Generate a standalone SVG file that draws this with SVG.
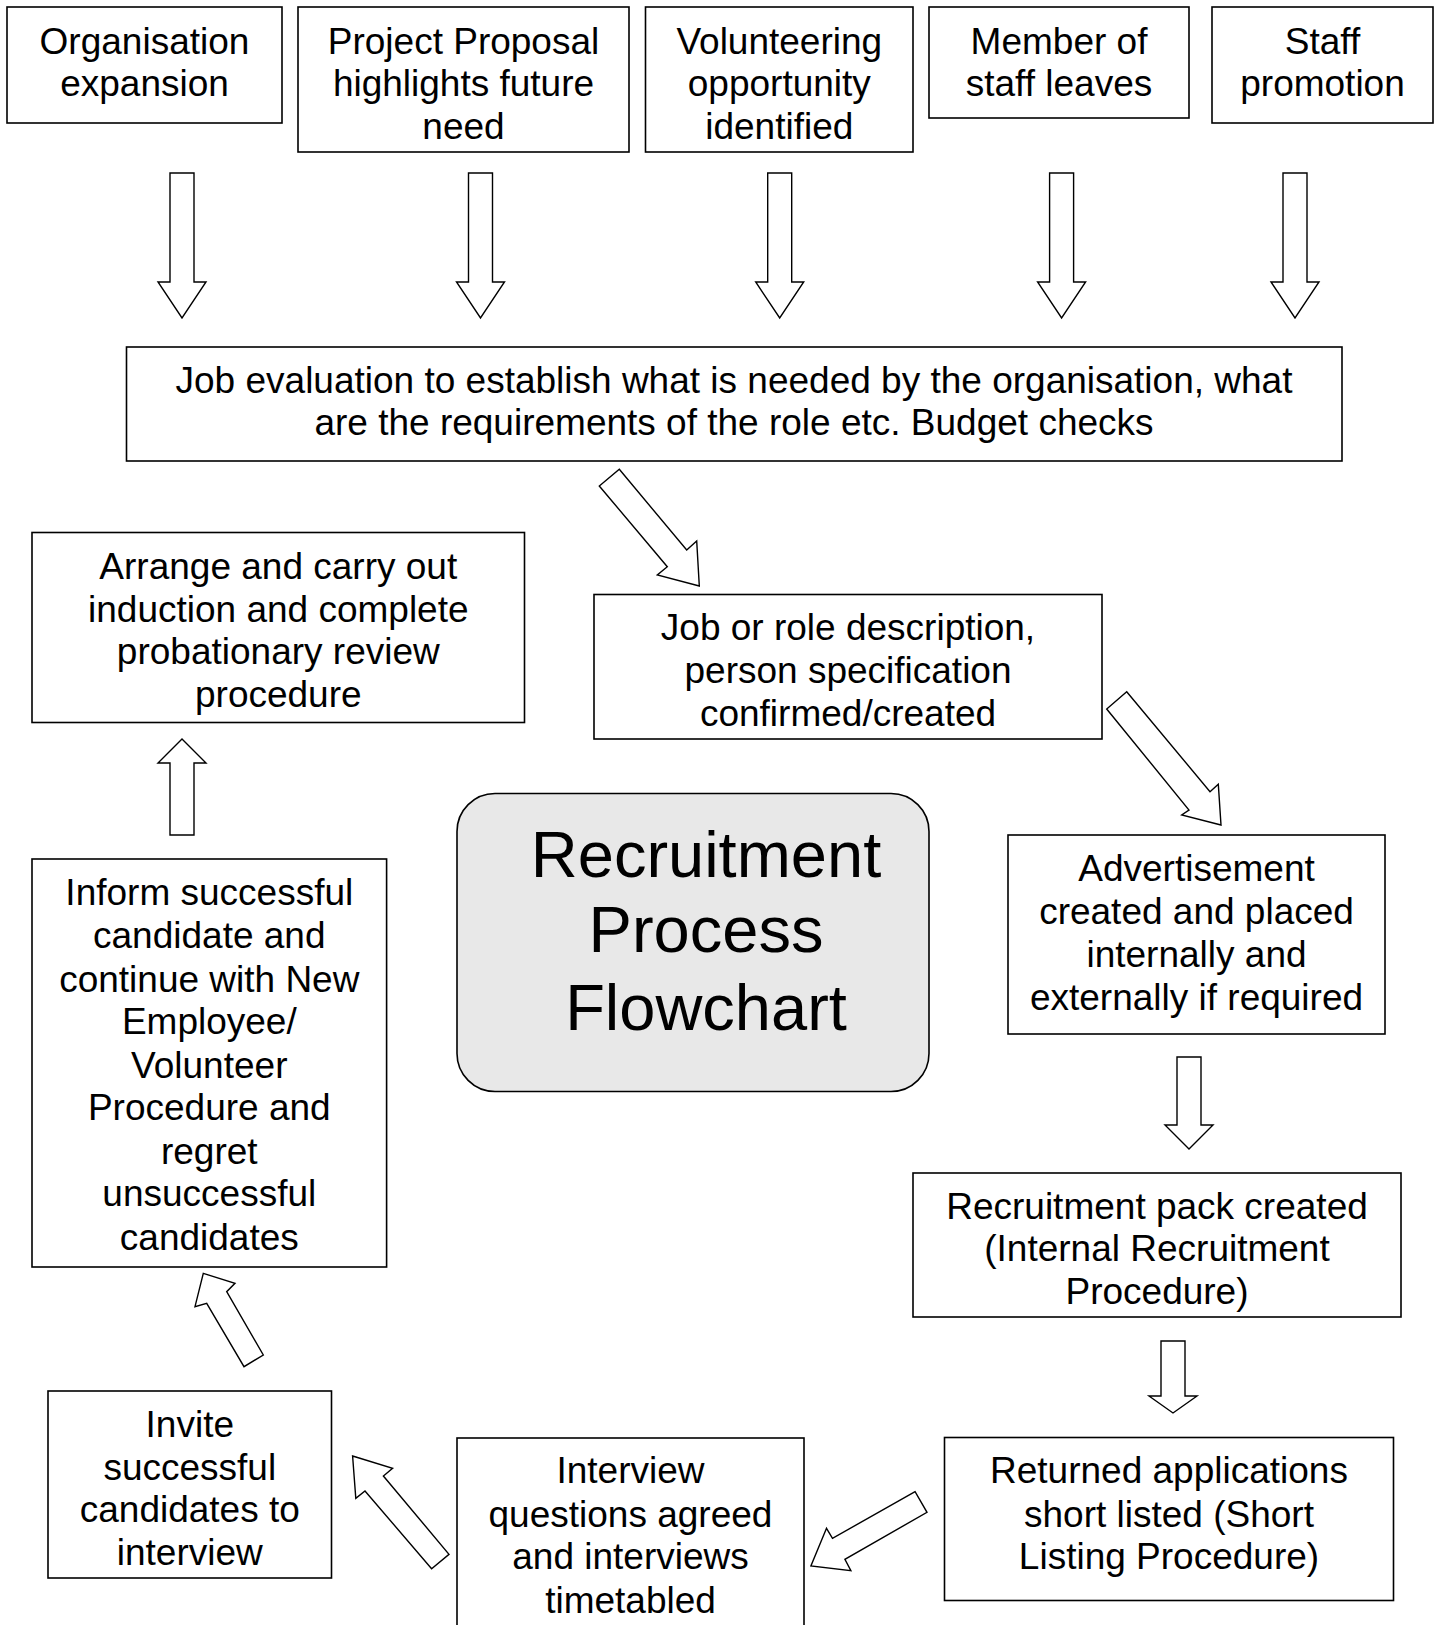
<svg xmlns="http://www.w3.org/2000/svg" width="1440" height="1625" viewBox="0 0 1440 1625">
<style>
.box{fill:#fff;stroke:#000;stroke-width:1.6}
.title{fill:#e8e8e8;stroke:#000;stroke-width:1.6}
.t{font-family:"Liberation Sans",Arial,sans-serif;font-size:37px;fill:#000;text-anchor:middle}
.tt{font-family:"Liberation Sans",Arial,sans-serif;font-size:65px;fill:#000;text-anchor:middle}
.arr{fill:#fff;stroke:#000;stroke-width:1.4;stroke-linejoin:miter}
</style>
<rect width="1440" height="1625" fill="#fff"/>
<g id="connectors">
<polygon class="arr" points="170,173 194,173 194,282 206,282 182,318 158,282 170,282"/>
<polygon class="arr" points="468.5,173 492.5,173 492.5,282 504.5,282 480.5,318 456.5,282 468.5,282"/>
<polygon class="arr" points="767.7,173 791.7,173 791.7,282 803.7,282 779.7,318 755.7,282 767.7,282"/>
<polygon class="arr" points="1049.6,173 1073.6,173 1073.6,282 1085.6,282 1061.6,318 1037.6,282 1049.6,282"/>
<polygon class="arr" points="1283,173 1307,173 1307,282 1319,282 1295,318 1271,282 1283,282"/>
<polygon class="arr" points="619.3,469.3 686.7,550 696.7,541 699.3,586 657.3,575 667.3,566.7 599.3,486"/>
<polygon class="arr" points="1126.7,691.7 1210,791.7 1218.3,784.3 1221,825 1181.7,815 1189,810 1106.7,709"/>
<polygon class="arr" points="1177,1057 1201,1057 1201,1125 1213,1125 1189,1149 1165,1125 1177,1125"/>
<polygon class="arr" points="1161,1341 1185,1341 1185,1396 1197,1396 1173,1413 1149,1396 1161,1396"/>
<polygon class="arr" points="915.1,1491.7 832.5,1538.3 826.5,1528.3 810.9,1566 850.9,1570.7 844.9,1559.3 927,1512.3"/>
<polygon class="arr" points="352.6,1456 392.6,1468.3 383.4,1476 449,1554.3 431.6,1568.7 365,1491 355.8,1498.3"/>
<polygon class="arr" points="203.3,1273.3 235,1283.3 226.7,1291.7 263.3,1355 244,1366.7 206.7,1303.3 195,1306.7"/>
<polygon class="arr" points="170,835 194,835 194,763 206,763 182,739 158,763 170,763"/>
</g>
<g id="organisation-expansion">
<rect class="box" x="7" y="7" width="275" height="116"/>
<text class="t" x="144.5" y="54">Organisation</text>
<text class="t" x="144.5" y="96">expansion</text>
</g>
<g id="project-proposal">
<rect class="box" x="298" y="7" width="331" height="145"/>
<text class="t" x="463.5" y="54">Project Proposal</text>
<text class="t" x="463.5" y="96">highlights future</text>
<text class="t" x="463.5" y="138.5">need</text>
</g>
<g id="volunteering">
<rect class="box" x="645.5" y="7" width="267.5" height="145"/>
<text class="t" x="779.3" y="54">Volunteering</text>
<text class="t" x="779.3" y="96">opportunity</text>
<text class="t" x="779.3" y="138.5">identified</text>
</g>
<g id="member-leaves">
<rect class="box" x="929" y="7" width="260" height="111"/>
<text class="t" x="1059" y="54">Member of</text>
<text class="t" x="1059" y="96">staff leaves</text>
</g>
<g id="staff-promotion">
<rect class="box" x="1212" y="7" width="221" height="116"/>
<text class="t" x="1322.5" y="54">Staff</text>
<text class="t" x="1322.5" y="96">promotion</text>
</g>
<g id="job-evaluation">
<rect class="box" x="126.5" y="347" width="1215.5" height="114"/>
<text class="t" x="734" y="392.5">Job evaluation to establish what is needed by the organisation, what</text>
<text class="t" x="734" y="435">are the requirements of the role etc. Budget checks</text>
</g>
<g id="arrange-induction">
<rect class="box" x="32" y="532.5" width="492.5" height="190"/>
<text class="t" x="278.3" y="579">Arrange and carry out</text>
<text class="t" x="278.3" y="621.5">induction and complete</text>
<text class="t" x="278.3" y="664">probationary review</text>
<text class="t" x="278.3" y="706.5">procedure</text>
</g>
<g id="job-description">
<rect class="box" x="594" y="594.5" width="508" height="144.5"/>
<text class="t" x="848" y="640">Job or role description,</text>
<text class="t" x="848" y="683">person specification</text>
<text class="t" x="848" y="726">confirmed/created</text>
</g>
<g id="title">
<rect class="title" x="457" y="793.5" width="472" height="298" rx="38" ry="38"/>
<text class="tt" x="706" y="877">Recruitment</text>
<text class="tt" x="706" y="952">Process</text>
<text class="tt" x="706" y="1029.5">Flowchart</text>
</g>
<g id="inform-successful">
<rect class="box" x="32" y="859" width="354.6" height="408"/>
<text class="t" x="209.3" y="904.6">Inform successful</text>
<text class="t" x="209.3" y="948">candidate and</text>
<text class="t" x="209.3" y="991.5">continue with New</text>
<text class="t" x="209.3" y="1034">Employee/</text>
<text class="t" x="209.3" y="1077.5">Volunteer</text>
<text class="t" x="209.3" y="1120.2">Procedure and</text>
<text class="t" x="209.3" y="1163.5">regret</text>
<text class="t" x="209.3" y="1206.2">unsuccessful</text>
<text class="t" x="209.3" y="1249.5">candidates</text>
</g>
<g id="advertisement">
<rect class="box" x="1008" y="835" width="377" height="199"/>
<text class="t" x="1196.5" y="880.7">Advertisement</text>
<text class="t" x="1196.5" y="924">created and placed</text>
<text class="t" x="1196.5" y="966.8">internally and</text>
<text class="t" x="1196.5" y="1010">externally if required</text>
</g>
<g id="recruitment-pack">
<rect class="box" x="913" y="1173" width="488" height="144"/>
<text class="t" x="1157" y="1218.7">Recruitment pack created</text>
<text class="t" x="1157" y="1261">(Internal Recruitment</text>
<text class="t" x="1157" y="1303.7">Procedure)</text>
</g>
<g id="returned-applications">
<rect class="box" x="944.5" y="1437.5" width="449" height="163"/>
<text class="t" x="1169" y="1483">Returned applications</text>
<text class="t" x="1169" y="1526.6">short listed (Short</text>
<text class="t" x="1169" y="1569">Listing Procedure)</text>
</g>
<g id="interview-questions">
<rect class="box" x="457" y="1438" width="347" height="200"/>
<text class="t" x="630.5" y="1483">Interview</text>
<text class="t" x="630.5" y="1526.6">questions agreed</text>
<text class="t" x="630.5" y="1569">and interviews</text>
<text class="t" x="630.5" y="1612.6">timetabled</text>
</g>
<g id="invite-candidates">
<rect class="box" x="48" y="1391" width="283.5" height="187"/>
<text class="t" x="189.8" y="1437.4">Invite</text>
<text class="t" x="189.8" y="1480">successful</text>
<text class="t" x="189.8" y="1522.4">candidates to</text>
<text class="t" x="189.8" y="1565">interview</text>
</g>
</svg>
